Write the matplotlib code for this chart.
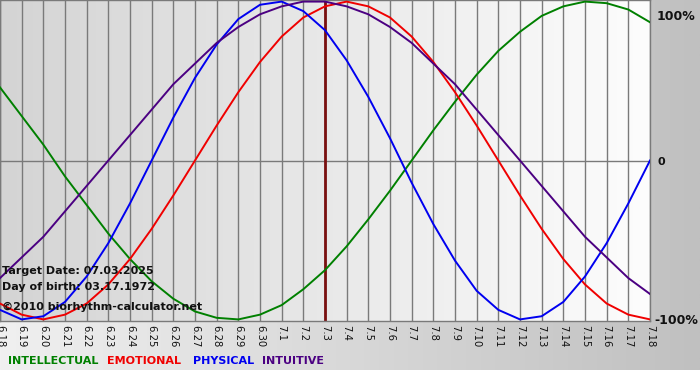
import numpy as np
import matplotlib
matplotlib.use('Agg')
import matplotlib.pyplot as plt
from matplotlib.colors import LinearSegmentedColormap

# day labels 6.18 .. 7.18
days = ['6.18', '6.19', '6.20', '6.21', '6.22', '6.23', '6.24', '6.25', '6.26', '6.27',
        '6.28', '6.29', '6.30', '7.1', '7.2', '7.3', '7.4', '7.5', '7.6', '7.7',
        '7.8', '7.9', '7.10', '7.11', '7.12', '7.13', '7.14', '7.15', '7.16', '7.17', '7.18']

intellectual = [0.46, 0.28, 0.10, -0.10, -0.28, -0.46, -0.62, -0.76, -0.87, -0.95, -0.99,
                -1.00, -0.97, -0.91, -0.81, -0.69, -0.54, -0.37, -0.19, 0.00, 0.19, 0.37,
                0.54, 0.69, 0.81, 0.91, 0.97, 1.00, 0.99, 0.95, 0.87]
emotional = [-0.90, -0.97, -1.00, -0.97, -0.90, -0.78, -0.62, -0.43, -0.22, 0.00, 0.22,
             0.43, 0.62, 0.78, 0.90, 0.97, 1.00, 0.97, 0.90, 0.78, 0.62, 0.43, 0.22, 0.00,
             -0.22, -0.43, -0.62, -0.78, -0.90, -0.97, -1.00]
physical = [-0.94, -1.00, -0.98, -0.89, -0.73, -0.52, -0.27, 0.00, 0.27, 0.52, 0.73, 0.89,
            0.98, 1.00, 0.94, 0.82, 0.63, 0.40, 0.14, -0.14, -0.40, -0.63, -0.82, -0.94,
            -1.00, -0.98, -0.89, -0.73, -0.52, -0.27, 0.00]
intuitive = [-0.74, -0.61, -0.48, -0.32, -0.16, 0.00, 0.16, 0.32, 0.48, 0.61, 0.74, 0.84,
             0.92, 0.97, 1.00, 1.00, 0.97, 0.92, 0.84, 0.74, 0.61, 0.48, 0.32, 0.16, 0.00,
             -0.16, -0.32, -0.48, -0.61, -0.74, -0.84]

target_day = '7.3'
series_names = ['INTELLECTUAL', 'EMOTIONAL', 'PHYSICAL', 'INTUITIVE']
series_colors = ['#008000', '#f00000', '#0000f0', '#4b0082']

fig = plt.figure(figsize=(7, 3.8), dpi=100, facecolor='white')

# outer background gradient (light left -> gray right)
bg = fig.add_axes([0, 10 / 380, 1, 370 / 380], zorder=-5)
bg.imshow(np.linspace(0, 1, 256).reshape(1, -1), aspect='auto',
          cmap=LinearSegmentedColormap.from_list('o', ['#f0f0f0', '#c0c0c0']),
          extent=[0, 1, 0, 1])
bg.set_axis_off()

ax = fig.add_axes([0, 59 / 380, 650 / 700, 321 / 380])
x = np.arange(len(days))
ax.imshow(np.linspace(0, 1, 256).reshape(1, -1), aspect='auto',
          cmap=LinearSegmentedColormap.from_list('p', ['#d4d4d4', '#fdfdfd']),
          extent=[0, len(days) - 1, -1.01, 1.01], zorder=0)

for xi in x:
    ax.axvline(xi, color='#7a7a7a', lw=1.0, zorder=1)
ax.axhline(0, color='#7a7a7a', lw=1.0, zorder=1)
ax.axvline(days.index(target_day), color='#7a1010', lw=2.0, zorder=2)

for vals, c in zip([intellectual, emotional, physical, intuitive], series_colors):
    ax.plot(x, vals, color=c, lw=1.4, zorder=3, solid_joinstyle='round')

ax.set_xlim(0, len(days) - 1)
ax.set_ylim(-1.01, 1.01)
ax.set_yticks([])
ax.set_xticks(x)
ax.set_xticklabels(days, rotation=270, fontsize=7.2, color='#111111')
ax.tick_params(axis='x', length=0, pad=3)
for s in ax.spines.values():
    s.set_color('#7a7a7a')
    s.set_linewidth(1.0)

# info text
ax.text(0.003, 0.155, 'Target Date: 07.03.2025', transform=ax.transAxes,
        fontsize=8, fontweight='bold', color='#111111', va='center', zorder=5)
ax.text(0.003, 0.105, 'Day of birth: 03.17.1972', transform=ax.transAxes,
        fontsize=8, fontweight='bold', color='#111111', va='center', zorder=5)
ax.text(0.003, 0.045, '\u00a92010 biorhythm-calculator.net', transform=ax.transAxes,
        fontsize=8, fontweight='bold', color='#111111', va='center', zorder=5)

# right side labels
fig.text(657 / 700, 1 - 16 / 380, '100%', fontsize=9, fontweight='bold', color='#111111', va='center')
fig.text(657 / 700, 1 - 162 / 380, '0', fontsize=8, fontweight='bold', color='#111111', va='center')
fig.text(654 / 700, 1 - 321 / 380, '-100%', fontsize=9, fontweight='bold', color='#111111', va='center')

# legend texts
xpos = [8, 107, 193, 262]
for name, c, xp in zip(series_names, series_colors, xpos):
    fig.text(xp / 700, 1 - 361 / 380, name, fontsize=8, fontweight='bold', color=c, va='center')

fig.savefig('out.png', dpi=100, facecolor='white')
